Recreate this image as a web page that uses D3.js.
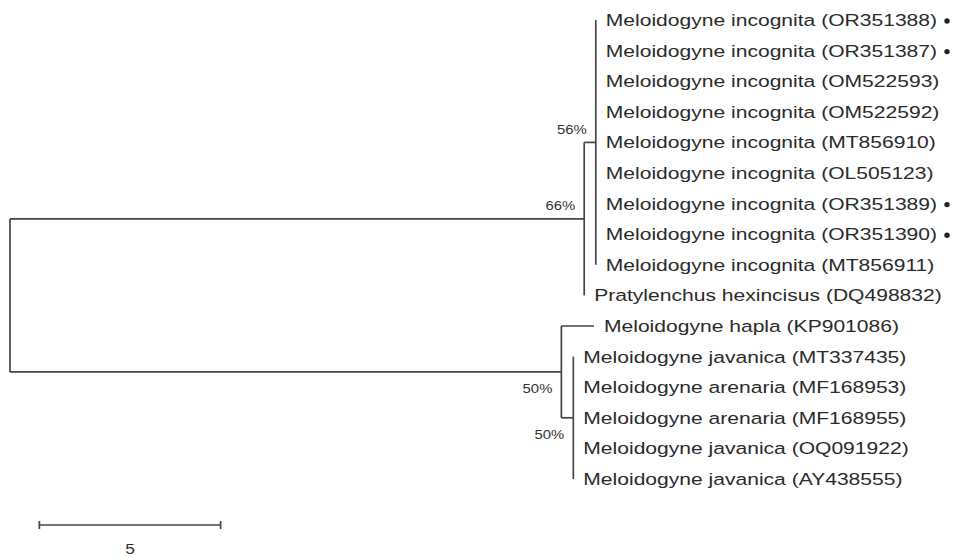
<!DOCTYPE html>
<html>
<head>
<meta charset="utf-8">
<script src="https://cdn.jsdelivr.net/npm/d3@7"></script>
<style>
  html, body { margin: 0; padding: 0; background: #fff; }
  svg { display: block; font-family: "Liberation Sans", Arial, sans-serif; }
</style>
</head>
<body>
<script>
// tips, top to bottom
const tipLabels = [
    "Meloidogyne incognita (OR351388)",
    "Meloidogyne incognita (OR351387)",
    "Meloidogyne incognita (OM522593)",
    "Meloidogyne incognita (OM522592)",
    "Meloidogyne incognita (MT856910)",
    "Meloidogyne incognita (OL505123)",
    "Meloidogyne incognita (OR351389)",
    "Meloidogyne incognita (OR351390)",
    "Meloidogyne incognita (MT856911)",
    "Pratylenchus hexincisus (DQ498832)",
    "Meloidogyne hapla (KP901086)",
    "Meloidogyne javanica (MT337435)",
    "Meloidogyne arenaria (MF168953)",
    "Meloidogyne arenaria (MF168955)",
    "Meloidogyne javanica (OQ091922)",
    "Meloidogyne javanica (AY438555)"
];
const tipMarked = [1, 1, 0, 0, 0, 0, 1, 1, 0, 0, 0, 0, 0, 0, 0, 0];
const tipParents = [
    "A1", "A1", "A1", "A1", "A1", "A1", "A1", "A1", "A1",
    "A",
    "B",
    "B1", "B1", "B1", "B1", "B1"
];
const tipLengths = [0, 0, 0, 0, 0, 0, 0, 0, 0, 0, 0.9, 0, 0, 0, 0, 0];

// internal nodes
const nodeNames = ["root", "A", "A1", "B", "B1"];
const nodeParents = [null, "root", "A", "root", "B"];
const nodeLengths = [0, 15.84, 0.32, 15.21, 0.33];
const nodeSupport = ["", "66%", "56%", "50%", "50%"];

const scaleBarLength = 5;
const scaleBarStart = 0.81;

const width = 954, height = 558;
const sx = 1.24; // the picture is stretched sideways

const svg = d3.select("body").append("svg")
    .attr("width", width)
    .attr("height", height);

// build the table for stratify
const table = nodeNames.map((n, i) => ({
    id: n, parentId: nodeParents[i], length: nodeLengths[i], support: nodeSupport[i]
})).concat(tipLabels.map((t, i) => ({
    id: t, parentId: tipParents[i], length: tipLengths[i], tip: i, marked: tipMarked[i]
})));

const root = d3.stratify()
    .id(d => d.id)
    .parentId(d => d.parentId)(table);

// keep tips in the order of the list
root.sort((a, b) => firstTip(a) - firstTip(b));
function firstTip(n) {
    return n.data.tip !== undefined ? n.data.tip : d3.min(n.children, firstTip);
}

const x = d3.scaleLinear().domain([0, 16]).range([10, 10 + 16 * 36.25]);
const y = d3.scaleLinear().domain([0, tipLabels.length - 1]).range([20, 479]);

root.eachBefore(n => {
    n.dist = n.parent ? n.parent.dist + n.data.length : 0;
});
root.eachAfter(n => {
    if (!n.children) n.yy = y(n.data.tip);
    else n.yy = (n.children[0].yy + n.children[n.children.length - 1].yy) / 2;
});

const lineColor = "#454545";
const g = svg.append("g")
    .attr("fill", "none")
    .attr("stroke", lineColor)
    .attr("stroke-width", 1.7);

// horizontal branches
g.selectAll("line.h")
    .data(root.descendants().filter(n => n.parent && n.data.length > 0))
    .enter()
    .append("line")
    .attr("class", "h")
    .attr("x1", n => x(n.parent.dist))
    .attr("x2", n => x(n.dist))
    .attr("y1", n => n.yy)
    .attr("y2", n => n.yy);

// vertical connectors
g.selectAll("line.v")
    .data(root.descendants().filter(n => n.children))
    .enter()
    .append("line")
    .attr("class", "v")
    .attr("x1", n => x(n.dist))
    .attr("x2", n => x(n.dist))
    .attr("y1", n => n.children[0].yy)
    .attr("y2", n => n.children[n.children.length - 1].yy);

// tip labels
const tips = root.leaves();
const labels = svg.selectAll("text.tip")
    .data(tips)
    .enter()
    .append("text")
    .attr("class", "tip")
    .attr("transform", n => `translate(${x(n.dist) + 10},${n.yy}) scale(${sx},1)`)
    .attr("dy", "0.35em")
    .style("font-size", "17px")
    .style("fill", "#2a2a2a")
    .text(n => n.id);

// dots after the new sequences
labels.each(function(n) {
    if (!n.data.marked) return;
    const w = this.getComputedTextLength() * sx;
    svg.append("circle")
        .attr("cx", x(n.dist) + 10 + w + 10)
        .attr("cy", n.yy + 1)
        .attr("r", 2.7)
        .attr("fill", "#222");
});

// bootstrap values
svg.selectAll("text.support")
    .data(root.descendants().filter(n => n.data.support))
    .enter()
    .append("text")
    .attr("class", "support")
    .attr("text-anchor", "end")
    .attr("transform", n => {
        const below = n.yy > n.parent.yy;
        return `translate(${x(n.dist) - 9},${n.yy + (below ? 17 : -13)}) scale(${sx},1)`;
    })
    .attr("dy", "0.35em")
    .style("font-size", "12px")
    .style("fill", "#333")
    .text(n => n.data.support);

// scale bar
const barY = 525;
const x0 = x(scaleBarStart), x1 = x(scaleBarStart + scaleBarLength);
const bar = svg.append("g")
    .attr("stroke", lineColor)
    .attr("stroke-width", 1.7);
bar.append("line")
    .attr("x1", x0).attr("x2", x1)
    .attr("y1", barY).attr("y2", barY);
[x0, x1].forEach(px => {
    bar.append("line")
        .attr("x1", px).attr("x2", px)
        .attr("y1", barY - 4).attr("y2", barY + 4);
});
svg.append("text")
    .attr("transform", `translate(${(x0 + x1) / 2},549) scale(${sx},1)`)
    .attr("text-anchor", "middle")
    .attr("dy", "0.35em")
    .style("font-size", "14px")
    .style("fill", "#333")
    .text(scaleBarLength);
</script>
</body>
</html>
